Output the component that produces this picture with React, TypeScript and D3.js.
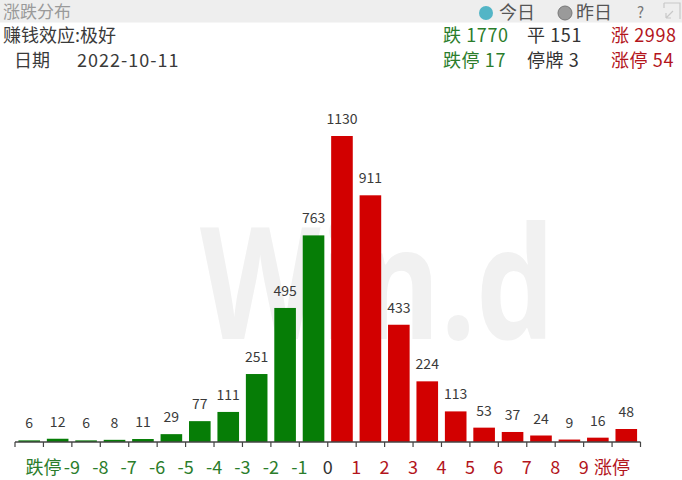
import React from 'react';
import * as d3 from 'd3';

const barValues = [6, 12, 6, 8, 11, 29, 77, 111, 251, 495, 763, 1130, 911, 433, 224, 113, 53, 37, 24, 9, 16, 48];
const barSides = ['down', 'down', 'down', 'down', 'down', 'down', 'down', 'down', 'down', 'down', 'down', 'up', 'up', 'up', 'up', 'up', 'up', 'up', 'up', 'up', 'up', 'up'];
const tickLabels = ['跌停', '-9', '-8', '-7', '-6', '-5', '-4', '-3', '-2', '-1', '0', '1', '2', '3', '4', '5', '6', '7', '8', '9', '涨停'];
const tickSides = ['down', 'down', 'down', 'down', 'down', 'down', 'down', 'down', 'down', 'down', 'flat', 'up', 'up', 'up', 'up', 'up', 'up', 'up', 'up', 'up', 'up'];

const title = '涨跌分布';
const effectText = '赚钱效应:极好';
const dateLabel = '日期';
const dateValue = '2022-10-11';
const legendItems = ['今日', '昨日'];
const summaryRow1 = [
  { text: '跌 1770', side: 'down' },
  { text: '平 151', side: 'flat' },
  { text: '涨 2998', side: 'up' },
];
const summaryRow2 = [
  { text: '跌停 17', side: 'down' },
  { text: '停牌 3', side: 'flat' },
  { text: '涨停 54', side: 'up' },
];

const W = 682;
const H = 480;
const FONT = '"Noto Sans CJK SC", "Noto Sans", sans-serif';
const barColor: Record<string, string> = { down: '#067d06', up: '#d20000' };
const textColor: Record<string, string> = { down: '#2b7d2b', flat: '#333333', up: '#b3151c' };

export default function App() {
  const x = d3
    .scaleBand<number>()
    .domain(d3.range(barValues.length))
    .range([15, 640.5])
    .paddingInner(0.24)
    .paddingOuter(0.12);
  const step = x.step();
  const x0 = 15;
  const y = d3.scaleLinear().domain([0, 1130]).range([442, 136]);
  const baseY = y(0);
  const boundaries = d3.range(barValues.length + 1).map((i) => x0 + i * step);
  const summaryX = [443, 527, 611];

  return (
    <svg
      width={W}
      height={H}
      style={{ position: 'absolute', left: 0, top: 0, background: '#ffffff' }}
      fontFamily={FONT}
    >
      <rect x={0} y={0} width={W} height={H} fill="#ffffff" />
      {/* header band */}
      <rect x={0} y={0} width={W} height={22.5} fill="#eeeeee" />
      <text x={3} y={18} fontSize={17} fill="#9a9a9a">{title}</text>
      <circle cx={486} cy={13} r={7} fill="#53b5c6" />
      <text x={499} y={19} fontSize={18} fill="#555">{legendItems[0]}</text>
      <circle cx={565} cy={13} r={7} fill="#9a9a9a" stroke="#777" strokeWidth={1} />
      <text x={576} y={19} fontSize={18} fill="#555">{legendItems[1]}</text>
      <text x={637} y={18} fontSize={15} fill="#777">?</text>
      <g stroke="#c8c8c8" strokeWidth={1.2} fill="none">
        <path d="M664,3 H680 V19" />
        <path d="M664,3 V8" />
        <path d="M666,18 L673,11 M666,18 H671 M666,18 V13" />
      </g>

      {/* info rows */}
      <text x={3} y={42} fontSize={18} fill="#3a3a3a">{effectText}</text>
      <text x={14} y={67} fontSize={18} fill="#3a3a3a">{dateLabel}</text>
      <text x={77} y={67} fontSize={18} letterSpacing={1} fill="#3a3a3a">{dateValue}</text>
      {summaryRow1.map((d, i) => (
        <text key={'r1' + i} x={summaryX[i]} y={42} fontSize={18} letterSpacing={0.6} fill={textColor[d.side]}>
          {d.text}
        </text>
      ))}
      {summaryRow2.map((d, i) => (
        <text key={'r2' + i} x={summaryX[i]} y={67} fontSize={18} letterSpacing={0.6} fill={textColor[d.side]}>
          {d.text}
        </text>
      ))}

      {/* watermark */}
      <text
        x={200}
        y={339}
        fontSize={156}
        fontWeight={700}
        fontFamily='"Open Sans", sans-serif'
        fill="#f1f1f1"
        textLength={355}
        lengthAdjust="spacingAndGlyphs"
      >
        Win.d
      </text>

      {/* bars */}
      {barValues.map((v, i) => (
        <g key={'b' + i}>
          <rect
            x={x(i)!}
            y={y(v)}
            width={x.bandwidth()}
            height={baseY - y(v)}
            fill={barColor[barSides[i]]}
          />
          <text
            x={x(i)! + x.bandwidth() / 2}
            y={y(v) - 12}
            fontSize={14}
            textAnchor="middle"
            fill="#3a3a3a"
          >
            {v}
          </text>
        </g>
      ))}

      {/* axis */}
      <line x1={x0} x2={boundaries[boundaries.length - 1]} y1={baseY} y2={baseY} stroke="#444" strokeWidth={1.5} />
      {boundaries.map((bx, i) => (
        <line key={'t' + i} x1={bx} x2={bx} y1={baseY} y2={baseY + 5} stroke="#444" strokeWidth={1.2} />
      ))}
      {tickLabels.map((t, i) => (
        <text
          key={'l' + i}
          x={boundaries[i + 1]}
          y={474}
          fontSize={18}
          textAnchor="middle"
          fill={textColor[tickSides[i]]}
        >
          {t}
        </text>
      ))}
    </svg>
  );
}
